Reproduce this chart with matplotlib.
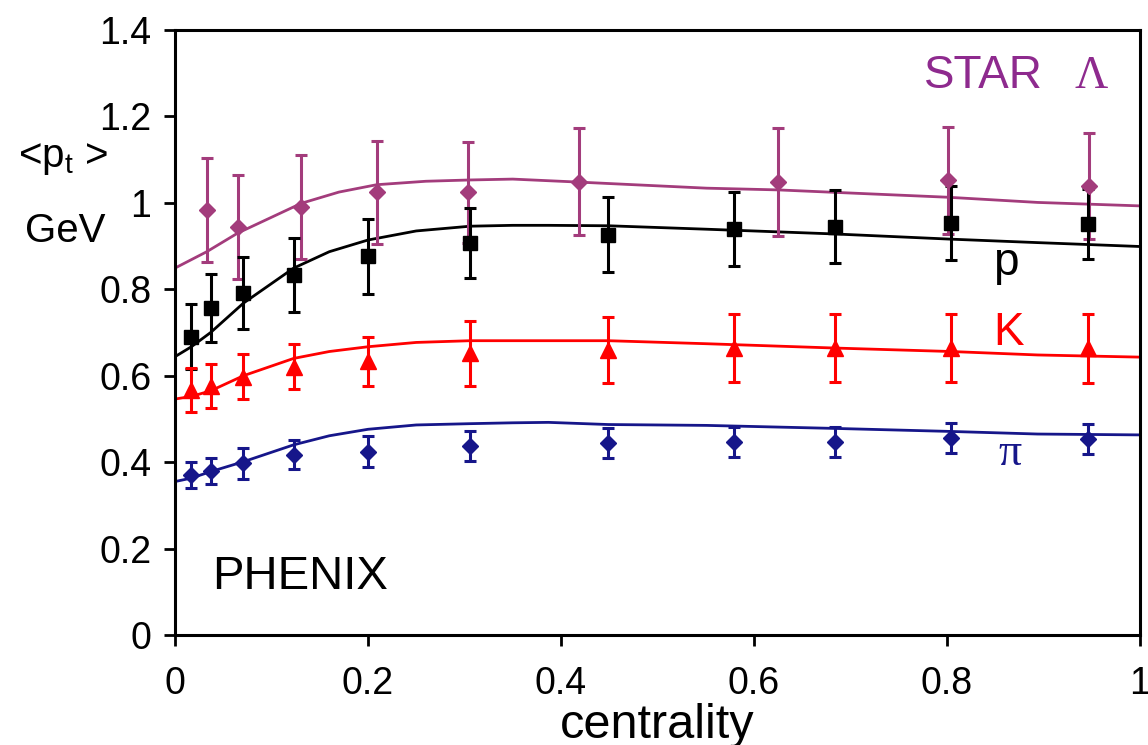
import matplotlib
matplotlib.use("Agg")
import matplotlib.pyplot as plt
from matplotlib.ticker import FuncFormatter

plt.rcParams['font.family'] = ['Liberation Sans', 'DejaVu Sans']
plt.rcParams['mathtext.fontset'] = 'custom'
plt.rcParams['mathtext.rm'] = 'Liberation Sans'

# ---- data ----
x_phenix = [0.017, 0.037, 0.071, 0.123, 0.200, 0.306, 0.449, 0.579, 0.684, 0.804, 0.946]
pi_y   = [0.370, 0.380, 0.397, 0.417, 0.424, 0.437, 0.445, 0.447, 0.447, 0.455, 0.453]
pi_err = [0.030, 0.030, 0.035, 0.034, 0.036, 0.034, 0.035, 0.035, 0.035, 0.035, 0.035]
k_y    = [0.567, 0.576, 0.598, 0.621, 0.633, 0.652, 0.660, 0.664, 0.664, 0.664, 0.663]
k_err  = [0.050, 0.050, 0.052, 0.052, 0.056, 0.075, 0.076, 0.079, 0.079, 0.079, 0.079]
p_y    = [0.690, 0.756, 0.791, 0.833, 0.876, 0.907, 0.926, 0.939, 0.945, 0.953, 0.951]
p_err  = [0.075, 0.079, 0.084, 0.086, 0.087, 0.081, 0.087, 0.085, 0.084, 0.085, 0.080]

x_star = [0.033, 0.065, 0.131, 0.209, 0.304, 0.419, 0.625, 0.801, 0.947]
lam_y   = [0.984, 0.944, 0.991, 1.024, 1.024, 1.049, 1.049, 1.052, 1.039]
lam_err = [0.120, 0.120, 0.120, 0.120, 0.117, 0.124, 0.125, 0.123, 0.122]

# model curves
x_model  = [0.0, 0.017, 0.037, 0.071, 0.123, 0.160, 0.200, 0.250, 0.306, 0.350, 0.387, 0.449, 0.551, 0.684, 0.804, 0.894, 1.0]
pi_model = [0.355, 0.363, 0.378, 0.401, 0.440, 0.461, 0.476, 0.486, 0.489, 0.491, 0.492, 0.487, 0.485, 0.478, 0.471, 0.465, 0.463]
k_model  = [0.546, 0.552, 0.565, 0.600, 0.640, 0.656, 0.667, 0.677, 0.681, 0.681, 0.681, 0.681, 0.674, 0.664, 0.656, 0.648, 0.643]
p_model  = [0.644, 0.667, 0.700, 0.768, 0.849, 0.887, 0.914, 0.935, 0.946, 0.948, 0.948, 0.947, 0.939, 0.928, 0.916, 0.908, 0.899]

x_lam_model = [0.0, 0.033, 0.065, 0.131, 0.170, 0.209, 0.260, 0.306, 0.350, 0.419, 0.551, 0.625, 0.801, 0.894, 1.0]
lam_model   = [0.849, 0.887, 0.930, 0.999, 1.025, 1.042, 1.050, 1.053, 1.055, 1.048, 1.034, 1.030, 1.013, 1.001, 0.993]

x_ticks = [0, 0.2, 0.4, 0.6, 0.8, 1.0]
y_ticks = [0, 0.2, 0.4, 0.6, 0.8, 1.0, 1.2, 1.4]

# ---- colours ----
c_pi = '#16168a'
c_k = '#ff0000'
c_p = '#000000'
c_lam = '#a33c7c'
c_star = '#8e2a8e'

fig = plt.figure(figsize=(11.48, 7.45), dpi=100)
ax = fig.add_axes([0.1524, 0.1477, 0.8406, 0.8120])

lw_curve = 2.0
ekw = dict(elinewidth=2.2, capsize=4.5, capthick=2.2, linestyle='none')

ax.plot(x_lam_model, lam_model, color=c_lam, lw=lw_curve)
ax.plot(x_model, p_model, color=c_p, lw=lw_curve)
ax.plot(x_model, k_model, color=c_k, lw=lw_curve)
ax.plot(x_model, pi_model, color=c_pi, lw=lw_curve)

ax.errorbar(x_star, lam_y, yerr=lam_err, color=c_lam, marker='D', ms=8, **ekw)
ax.errorbar(x_phenix, p_y, yerr=p_err, color=c_p, marker='s', ms=9.5, **ekw)
ax.errorbar(x_phenix, k_y, yerr=k_err, color=c_k, marker='^', ms=11, **ekw)
ax.errorbar(x_phenix, pi_y, yerr=pi_err, color=c_pi, marker='D', ms=8, **ekw)

ax.set_xlim(0, 1)
ax.set_ylim(0, 1.4)
ax.set_xticks(x_ticks)
ax.set_yticks(y_ticks)
fmt = FuncFormatter(lambda v, pos: ('%g' % v))
ax.xaxis.set_major_formatter(fmt)
ax.yaxis.set_major_formatter(fmt)
ax.tick_params(axis='both', direction='out', length=8, width=2, labelsize=27)
ax.tick_params(axis='x', pad=14)
ax.tick_params(axis='y', pad=9)
for s in ax.spines.values():
    s.set_linewidth(2.2)

ax.set_xlabel('centrality', fontsize=35, labelpad=1)

# annotations
ax.text(0.039, 0.106, 'PHENIX', fontsize=34, color='black', ha='left', va='baseline')
ax.text(0.776, 1.266, 'STAR', fontsize=33, color=c_star, ha='left', va='baseline')
ax.text(0.932, 1.266, 'Λ', fontsize=33, color=c_star, ha='left', va='baseline',
        family=['Liberation Serif', 'DejaVu Serif'])
ax.text(0.848, 0.833, 'p', fontsize=33, color=c_p, ha='left', va='baseline')
ax.text(0.848, 0.671, 'K', fontsize=33, color=c_k, ha='left', va='baseline')
ax.text(0.853, 0.394, 'π', fontsize=33, color=c_pi, ha='left', va='baseline',
        family=['Liberation Serif', 'DejaVu Serif'])

# y label
fig.text(18 / 1148, 1 - 167 / 745, r'<p$_{\rm t}$ >', fontsize=29, ha='left', va='baseline')
fig.text(25 / 1148, 1 - 242 / 745, 'GeV', fontsize=29, ha='left', va='baseline')

fig.savefig('out.png', dpi=100)
